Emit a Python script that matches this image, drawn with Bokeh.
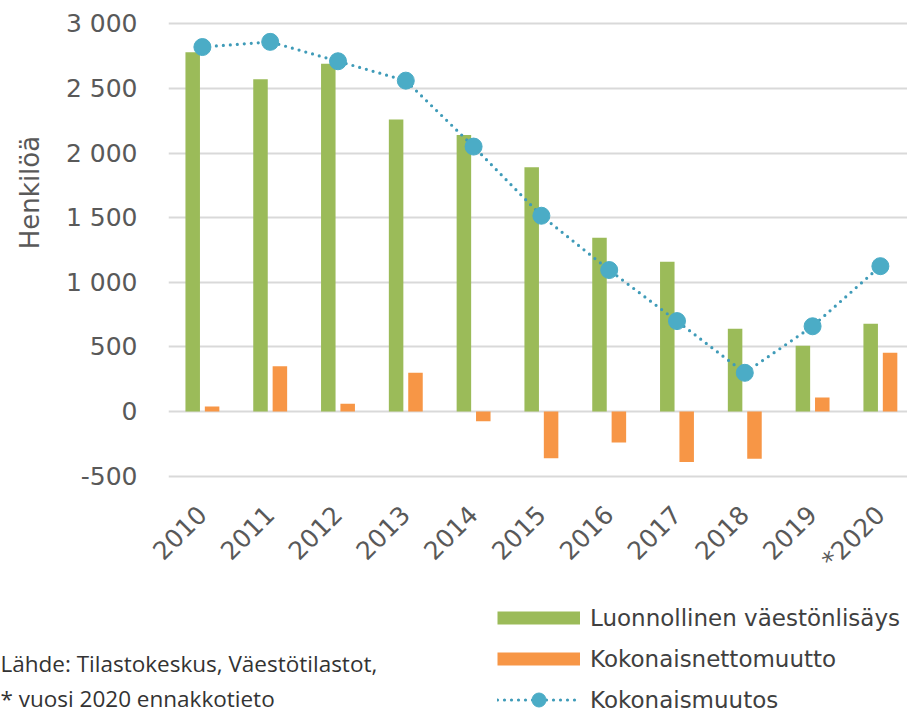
import math
import numpy as np
from bokeh.plotting import figure
from bokeh.layouts import column, row
from bokeh.models import (Range1d, FixedTicker, Label, Legend, LegendItem,
                          ColumnDataSource)
from bokeh.embed import file_html
from bokeh.resources import INLINE

# ---- data ----
years = ["2010", "2011", "2012", "2013", "2014", "2015", "2016", "2017",
         "2018", "2019", "*2020"]
natural_increase = [2780, 2570, 2690, 2260, 2140, 1890, 1345, 1160, 640, 510, 680]
net_migration = [40, 350, 60, 300, -75, -360, -240, -390, -365, 110, 455]
total_change = [2820, 2860, 2710, 2560, 2050, 1515, 1095, 700, 300, 660, 1125]
y_ticks = [-500, 0, 500, 1000, 1500, 2000, 2500, 3000]
y_tick_labels = ["-500", "0", "500", "1 000", "1 500", "2 000", "2 500", "3 000"]
series_names = ["Luonnollinen väestönlisäys", "Kokonaisnettomuutto", "Kokonaismuutos"]
y_title = "Henkilöä"
source_note = ["Lähde: Tilastokeskus, Väestötilastot,", "* vuosi 2020 ennakkotieto"]

GREEN = "#9BBB59"
ORANGE = "#F79646"
BLUE = "#4BACC6"
DOT = "#3F9BB8"
TICK_COLOR = "#595959"
AX_FONT = "DejaVu Sans"
NOTE_FONT = "Open Sans"

LEFT_W = 60
MAIN_H = 590
TOTAL_W = 907
TOTAL_H = 714

idx = np.arange(len(years))
src = ColumnDataSource(dict(
    x=idx,
    gx=idx - 0.143,
    ox=idx + 0.143,
    natural=natural_increase,
    net=net_migration,
    total=total_change,
))

# ---------------- main chart ----------------
p = figure(width=TOTAL_W - LEFT_W, height=MAIN_H, output_backend="svg",
           toolbar_location=None,
           x_range=Range1d(-0.5, 10.4), y_range=Range1d(-533, 3180),
           min_border_left=168 - LEFT_W, min_border_right=0, min_border_top=0,
           min_border_bottom=110)
p.outline_line_color = None
p.border_fill_color = "white"

p.xgrid.visible = False
p.ygrid.grid_line_color = "#D9D9D9"
p.ygrid.grid_line_width = 2

p.yaxis.ticker = FixedTicker(ticks=y_ticks)
p.yaxis.major_label_overrides = {t: l for t, l in zip(y_ticks, y_tick_labels)}
p.yaxis.axis_line_color = None
p.yaxis.major_tick_line_color = None
p.yaxis.minor_tick_line_color = None
p.yaxis.major_tick_in = 0
p.yaxis.major_tick_out = 0
p.yaxis.major_label_standoff = 31
p.yaxis.major_label_text_font = AX_FONT
p.yaxis.major_label_text_font_size = "25px"
p.yaxis.major_label_text_color = TICK_COLOR

p.xaxis.ticker = FixedTicker(ticks=list(range(len(years))))
p.xaxis.major_label_overrides = {int(i): y for i, y in zip(idx, years)}
p.xaxis.axis_line_color = None
p.xaxis.major_tick_line_color = None
p.xaxis.minor_tick_line_color = None
p.xaxis.major_tick_in = 0
p.xaxis.major_tick_out = 0
p.xaxis.major_label_standoff = 30
p.xaxis.major_label_orientation = math.pi / 4
p.xaxis.major_label_text_font = AX_FONT
p.xaxis.major_label_text_font_size = "25px"
p.xaxis.major_label_text_color = TICK_COLOR

p.vbar(x="gx", top="natural", bottom=0, width=0.214, source=src,
       fill_color=GREEN, line_color=None)
p.vbar(x="ox", top="net", bottom=0, width=0.214, source=src,
       fill_color=ORANGE, line_color=None)
p.line(x="x", y="total", source=src, line_color=DOT, line_width=3.2,
       line_dash="0 7", line_cap="round")
p.scatter(x="x", y="total", source=src, size=17, fill_color=BLUE,
          line_color=BLUE)

# ---------------- left strip: y title ----------------
pl = figure(width=LEFT_W, height=MAIN_H, output_backend="svg",
            toolbar_location=None, x_axis_location=None, y_axis_location=None,
            x_range=Range1d(0, LEFT_W), y_range=Range1d(MAIN_H, 0),
            min_border=0)
pl.outline_line_color = None
pl.grid.visible = False
pl.add_layout(Label(x=29, y=236, text=y_title, angle=math.pi / 2,
                    text_align="center", text_baseline="middle",
                    text_font=AX_FONT, text_font_size="26px",
                    text_color=TICK_COLOR))

# ---------------- bottom strip: legend + source ----------------
pb = figure(width=TOTAL_W, height=TOTAL_H - MAIN_H, output_backend="svg",
            toolbar_location=None, x_axis_location=None, y_axis_location=None,
            x_range=Range1d(0, TOTAL_W), y_range=Range1d(TOTAL_H, MAIN_H),
            min_border=0)
pb.outline_line_color = None
pb.grid.visible = False

# legend keys (placed outside the visible range, only their legend glyphs show)
kg = pb.line(x=[-1000, -999], y=[700, 700], line_color=GREEN, line_width=13,
             line_cap="butt")
ko = pb.line(x=[-1000, -999], y=[700, 700], line_color=ORANGE, line_width=13,
             line_cap="butt")
kl = pb.line(x=[-1000, -999], y=[700, 700], line_color=DOT, line_width=3.2,
             line_dash="0 7", line_cap="round")
ks = pb.scatter(x=[-1000], y=[700], size=17, fill_color=BLUE, line_color=BLUE)

legend = Legend(items=[
    LegendItem(label=series_names[0], renderers=[kg]),
    LegendItem(label=series_names[1], renderers=[ko]),
    LegendItem(label=series_names[2], renderers=[kl, ks]),
], location=(497, -3), orientation="vertical")
legend.border_line_color = None
legend.background_fill_alpha = 0
legend.padding = 0
legend.margin = 0
legend.glyph_width = 83
legend.glyph_height = 35
legend.label_height = 35
legend.spacing = 6
legend.label_standoff = 10
legend.label_text_font = AX_FONT
legend.label_text_font_size = "23px"
legend.label_text_color = "#404040"
pb.add_layout(legend)

pb.add_layout(Label(x=0, y=663, text=source_note[0], text_align="left",
                    text_baseline="middle", text_font=NOTE_FONT,
                    text_font_size="22.5px", text_color="#333333"))
pb.add_layout(Label(x=0, y=698, text=source_note[1], text_align="left",
                    text_baseline="middle", text_font=NOTE_FONT,
                    text_font_size="22.5px", text_color="#333333"))

layout = column(row(pl, p), pb)
open("out.html", "w").write(file_html(layout, INLINE))
